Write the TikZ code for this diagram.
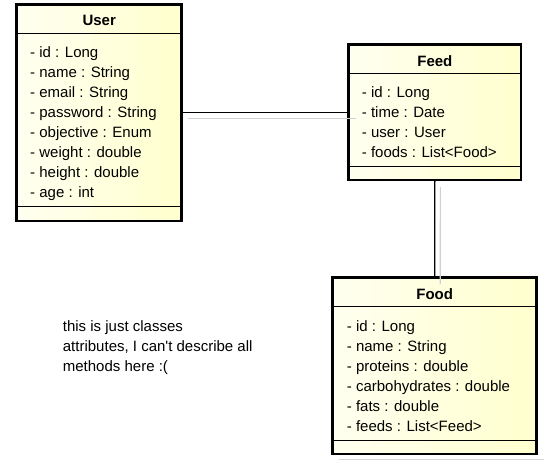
\documentclass[tikz,border=0pt]{standalone}
\usepackage{fontspec}
\setmainfont{Liberation Sans}
\usetikzlibrary{backgrounds}
\definecolor{boxL}{RGB}{255,255,240}
\definecolor{boxR}{RGB}{255,255,206}
\definecolor{shad}{RGB}{214,214,214}
\definecolor{lshad}{RGB}{208,208,208}
\begin{document}
\begin{tikzpicture}[x=1pt,y=-1pt,
  classbox/.style={draw=black, line width=2.8pt, left color=boxL, right color=boxR, inner sep=0pt, outer sep=0pt},
  sep/.style={line width=1pt, black},
  attr/.style={anchor=base west, inner sep=0pt, font=\fontsize{15}{20}\selectfont},
  ttl/.style={anchor=base, inner sep=0pt, font=\fontsize{15}{20}\selectfont\bfseries},
  link/.style={line width=1.3pt, black},
  linkshadow/.style={line width=1.1pt, lshad}]
\fill[white] (0,0) rectangle (547,459);
\useasboundingbox (0,0) rectangle (547,459);

% class boxes
\node[classbox, minimum width=165pt, minimum height=216.3pt] (user) at (99.2,112.85) {};
\node[classbox, minimum width=172.3pt, minimum height=135.3pt] (feed) at (434.85,112.35) {};
\node[classbox, minimum width=204pt, minimum height=176.3pt] (food) at (434.7,365.85) {};

% shadows
\begin{scope}[on background layer]
  \fill[shad] ([shift={(6,6.5)}]user.north west) rectangle ([shift={(7.5,7.5)}]user.south east);
  \fill[shad] ([shift={(6,6.5)}]feed.north west) rectangle ([shift={(7.5,7.5)}]feed.south east);
  \fill[shad] ([shift={(6,6.5)}]food.north west) rectangle ([shift={(7.5,7.5)}]food.south east);
\end{scope}

% compartments
\draw[sep] (user.west |- 0,33) -- (user.east |- 0,33);
\draw[sep] (user.west |- 0,206.7) -- (user.east |- 0,206.7);
\draw[sep] (feed.west |- 0,73.3) -- (feed.east |- 0,73.3);
\draw[sep] (feed.west |- 0,166) -- (feed.east |- 0,166);
\draw[sep] (food.west |- 0,306.7) -- (food.east |- 0,306.7);
\draw[sep] (food.west |- 0,440) -- (food.east |- 0,440);

% User
\node[ttl] (userT) at (99.2,25.7) {User};
\node[attr] (u1) at (30,57) {- id : Long};
\node[attr] (u2) at (30,77) {- name : String};
\node[attr] (u3) at (30,97) {- email : String};
\node[attr] (u4) at (30,117) {- password : String};
\node[attr] (u5) at (30,137) {- objective : Enum};
\node[attr] (u6) at (30,157) {- weight : double};
\node[attr] (u7) at (30,177) {- height : double};
\node[attr] (u8) at (30,197) {- age : int};

% Feed
\node[ttl] (feedT) at (434.85,66) {Feed};
\node[attr] (f1) at (361.7,97) {- id : Long};
\node[attr] (f2) at (361.7,117) {- time : Date};
\node[attr] (f3) at (361.7,137) {- user : User};
\node[attr] (f4) at (361.7,157) {- foods : List<Food>};

% Food
\node[ttl] (foodT) at (434.7,299.3) {Food};
\node[attr] (d1) at (346.7,331) {- id : Long};
\node[attr] (d2) at (346.7,351) {- name : String};
\node[attr] (d3) at (346.7,371) {- proteins : double};
\node[attr] (d4) at (346.7,391) {- carbohydrates : double};
\node[attr] (d5) at (346.7,411) {- fats : double};
\node[attr] (d6) at (346.7,431) {- feeds : List<Feed>};

% note text
\node[attr] (n1) at (62.7,331.7) {this is just classes};
\node[attr] (n2) at (62.7,351.7) {attributes, I can\textquotesingle t describe all};
\node[attr] (n3) at (62.7,371.7) {methods here :(};

% connectors
\draw[linkshadow] ([shift={(6,6)}]feed.west -| user.east) -- ([shift={(7.5,6)}]feed.west);
\draw[link] (feed.west -| user.east) -- (feed.west);
\draw[linkshadow] ([shift={(5.5,7)}]feed.south) -- ([shift={(5.5,6.5)}]food.north);
\draw[link] (feed.south) -- (food.north);
\end{tikzpicture}
\end{document}
